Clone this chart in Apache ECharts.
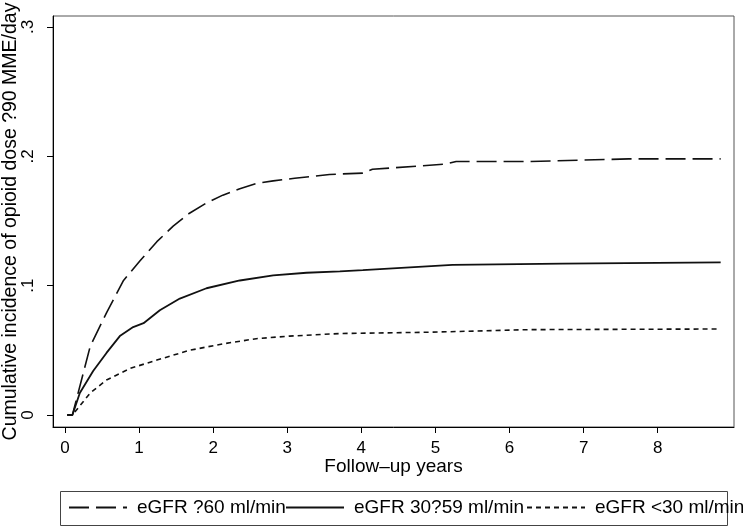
<!DOCTYPE html>
<html>
<head>
<meta charset="utf-8">
<script src="https://cdn.jsdelivr.net/npm/echarts@6/dist/echarts.min.js"></script>
<style>
  html, body { margin: 0; padding: 0; background: #fff; }
  #chart { width: 743px; height: 528px; }
</style>
</head>
<body>
<div id="chart"></div>
<script>
// series names (as printed in the legend)
const names = ['eGFR ?60 ml/min', 'eGFR 30?59 ml/min', 'eGFR <30 ml/min']

// eGFR >=60
const highT = [0.03, 0.10, 0.34, 0.56, 0.79, 1.01, 1.24, 1.46, 1.68, 1.91, 2.13, 2.36, 2.58, 2.81, 3.10, 3.57, 4.02, 4.15, 5.14, 5.28, 6.27, 7.61, 8.85]
const highY = [0, 0, 0.053, 0.079, 0.104, 0.119, 0.134, 0.146, 0.156, 0.164, 0.170, 0.175, 0.179, 0.181, 0.183, 0.186, 0.187, 0.190, 0.194, 0.196, 0.196, 0.198, 0.198]

// eGFR 30-59, solid curve
const midT = [0.03, 0.10, 0.20, 0.38, 0.56, 0.74, 0.92, 1.06, 1.28, 1.55, 1.91, 2.36, 2.81, 3.26, 3.71, 4.02, 5.23, 6.72, 8.85]
const midY = [0, 0, 0.017, 0.034, 0.048, 0.061, 0.068, 0.071, 0.081, 0.090, 0.098, 0.104, 0.108, 0.110, 0.111, 0.112, 0.116, 0.117, 0.118]

// eGFR <30, dotted curve
const lowT = [0.03, 0.10, 0.34, 0.56, 0.88, 1.24, 1.68, 2.13, 2.58, 3.03, 3.71, 4.92, 6.27, 8.83]
const lowY = [0, 0, 0.017, 0.027, 0.036, 0.0425, 0.050, 0.055, 0.059, 0.061, 0.063, 0.064, 0.066, 0.0665]

const xTicks = [0, 1, 2, 3, 4, 5, 6, 7, 8]
const yTicks = [0, 0.1, 0.2, 0.3]
const yTickLabels = ['0', '.1', '.2', '.3']

const zip = (t, y) => t.map((v, i) => [v, y[i]])
const font = "'Liberation Sans', Arial, Helvetica, sans-serif"

const chart = echarts.init(document.getElementById('chart'), null, { renderer: 'canvas' })

// one legend per entry so each sits where Stata put it
const legendBase = {
  top: 498, padding: 0, itemWidth: 58, itemHeight: 14, itemGap: 0,
  itemStyle: { color: 'transparent', borderColor: 'transparent', borderWidth: 0 },
  textStyle: { fontFamily: font, fontSize: 19, color: '#000', padding: [0, 0, 0, 5] },
  selectedMode: false,
}

chart.setOption({
  backgroundColor: '#fff',
  animation: false,
  grid: {
    left: 53, right: 9, top: 16, bottom: 101, outerBoundsMode: 'none', containLabel: false,
    show: true, borderColor: '#555', borderWidth: 1,
  },
  xAxis: {
    type: 'value', min: -0.162, max: 9.03,
    name: 'Follow–up years', nameLocation: 'middle', nameGap: 30, nameMoveOverlap: false,
    nameTextStyle: { fontFamily: font, fontSize: 19, color: '#000' },
    axisLine: { onZero: false, lineStyle: { color: '#000', width: 1 } },
    axisTick: { customValues: xTicks, length: 6, lineStyle: { color: '#000' } },
    axisLabel: { customValues: xTicks, margin: 13, fontFamily: font, fontSize: 17, color: '#000' },
    splitLine: { show: false },
  },
  yAxis: {
    type: 'value', min: -0.00928, max: 0.3085,
    name: 'Cumulative incidence of opioid dose ?90 MME/day', nameLocation: 'middle', nameGap: 32,
    nameMoveOverlap: false,
    nameTextStyle: { fontFamily: font, fontSize: 19.5, color: '#000' },
    axisLine: { show: true, onZero: false, lineStyle: { color: '#000', width: 1 } },
    axisTick: { show: true, customValues: yTicks, length: 6, lineStyle: { color: '#000' } },
    axisLabel: {
      customValues: yTicks, rotate: 90, margin: 16, fontFamily: font, fontSize: 17, color: '#000',
      formatter: (v) => yTickLabels[yTicks.findIndex((t) => Math.abs(t - v) < 1e-9)] ?? '',
    },
    splitLine: { show: false },
  },
  legend: [
    { ...legendBase, left: 68, data: [names[0]] },
    { ...legendBase, left: 285, data: [names[1]] },
    { ...legendBase, left: 526, data: [names[2]] },
  ],
  graphic: [
    { type: 'rect', shape: { x: 60.5, y: 491.5, width: 667, height: 34 },
      style: { fill: 'none', stroke: '#444', lineWidth: 1 }, z: 0 },
  ],
  series: [
    { name: names[0], type: 'line', data: zip(highT, highY), symbol: 'none', smooth: false,
      lineStyle: { color: '#111', width: 1.6, type: [20, 7] }, itemStyle: { color: '#111' } },
    { name: names[1], type: 'line', data: zip(midT, midY), symbol: 'none', smooth: false,
      lineStyle: { color: '#111', width: 1.8, type: 'solid' }, itemStyle: { color: '#111' } },
    { name: names[2], type: 'line', data: zip(lowT, lowY), symbol: 'none', smooth: false,
      lineStyle: { color: '#111', width: 1.6, type: [5, 4] }, itemStyle: { color: '#111' } },
  ],
})
</script>
</body>
</html>
